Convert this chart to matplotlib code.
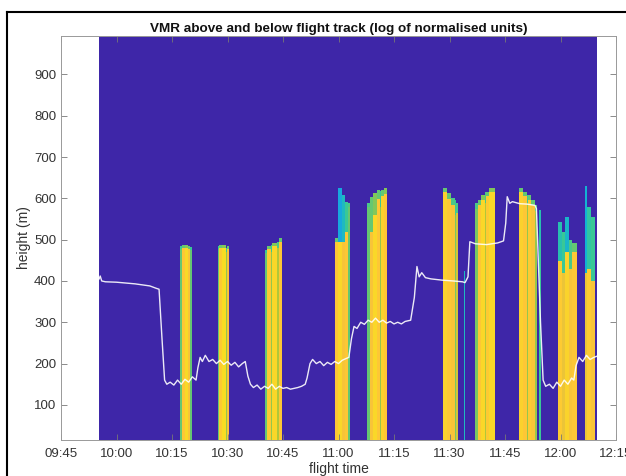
import matplotlib
matplotlib.use('Agg')
import matplotlib.pyplot as plt
from matplotlib.colors import LinearSegmentedColormap
from matplotlib.lines import Line2D
import numpy as np

# time in minutes after 09:45
tick_minutes = [0, 15, 30, 45, 60, 75, 90, 105, 120, 135, 150]
tick_labels = ['09:45', '10:00', '10:15', '10:30', '10:45', '11:00',
               '11:15', '11:30', '11:45', '12:00', '12:15']
height_ticks = [100, 200, 300, 400, 500, 600, 700, 800, 900]

# extent of the VMR curtain
curtain_t = [10.2, 144.9]
curtain_h = [15, 993]

# profile columns: start, end, top of core, core value, top of cap, cap value
col_t0 = [32.2, 32.6, 33.4, 34.3, 34.9,
          42.4, 42.8, 43.6, 44.6, 44.9,
          55.1, 55.6, 56.8, 57.1, 58.5, 58.8,
          74.0, 74.9, 75.9, 76.8, 77.6,
          82.7, 83.5, 84.3, 85.4, 86.1, 86.4, 87.2,
          103.2, 104.3, 105.4, 106.4, 106.7,
          108.8,
          111.9, 112.7, 113.5, 114.6, 115.0, 115.8,
          123.8, 125.0, 126.0, 126.3, 127.1, 128.1, 129.1,
          134.4, 135.3, 136.2, 137.2, 138.2,
          141.6, 142.1, 143.3]
col_t1 = [32.6, 33.4, 34.3, 34.9, 35.3,
          42.8, 43.6, 44.6, 44.9, 45.4,
          55.6, 56.8, 57.1, 58.5, 58.8, 59.8,
          74.9, 75.9, 76.8, 77.6, 78.1,
          83.5, 84.3, 85.4, 86.1, 86.4, 87.2, 88.1,
          104.3, 105.4, 106.4, 106.7, 107.4,
          109.1,
          112.7, 113.5, 114.6, 115.0, 115.8, 117.3,
          125.0, 126.0, 126.3, 127.1, 128.1, 128.6, 129.6,
          135.3, 136.2, 137.2, 138.2, 139.5,
          142.1, 143.3, 144.3]
col_top = [478, 480, 480, 478, 476,
           478, 480, 480, 470, 478,
           468, 478, 470, 485, 480, 496,
           495, 495, 495, 520, 580,
           580, 520, 560, 600, 580, 605, 612,
           615, 600, 585, 560, 565,
           420,
           575, 585, 598, 590, 605, 615,
           615, 605, 590, 598, 585, 570, 500,
           450, 420, 470, 430, 470,
           420, 430, 400]
col_val = [0.55, 0.76, 0.82, 0.74, 0.55,
           0.55, 0.77, 0.83, 0.60, 0.74,
           0.55, 0.77, 0.60, 0.81, 0.63, 0.76,
           0.76, 0.81, 0.74, 0.76, 0.55,
           0.55, 0.74, 0.81, 0.76, 0.60, 0.79, 0.76,
           0.79, 0.76, 0.74, 0.57, 0.68,
           0.42,
           0.57, 0.76, 0.81, 0.63, 0.77, 0.81,
           0.79, 0.76, 0.60, 0.77, 0.74, 0.60, 0.50,
           0.77, 0.72, 0.80, 0.74, 0.76,
           0.72, 0.77, 0.74]
cap_top = [486, 487, 487, 486, 484,
           486, 487, 487, 480, 486,
           476, 486, 488, 493, 495, 504,
           505, 625, 608, 592, 589,
           589, 604, 613, 620, 618, 622, 626,
           625, 613, 601, 596, 589,
           425,
           589, 596, 608, 616, 616, 625,
           625, 616, 608, 608, 596, 584, 572,
           543, 520, 556, 500, 492,
           632, 580, 556]
cap_val = [0.5, 0.55, 0.58, 0.55, 0.5,
           0.5, 0.55, 0.58, 0.5, 0.55,
           0.5, 0.55, 0.5, 0.58, 0.52, 0.55,
           0.55, 0.35, 0.42, 0.5, 0.52,
           0.52, 0.55, 0.58, 0.55, 0.5, 0.55, 0.58,
           0.55, 0.55, 0.52, 0.5, 0.52,
           0.4,
           0.52, 0.55, 0.58, 0.52, 0.55, 0.58,
           0.55, 0.55, 0.5, 0.55, 0.55, 0.52, 0.45,
           0.45, 0.5, 0.4, 0.52, 0.55,
           0.38, 0.48, 0.5]

# flight track altitude
track_t = [10.3, 10.6, 11.0, 12, 15, 20, 24, 25.8, 26.5, 27.3, 28.0, 28.6,
           29.5, 30.5, 31.5, 32.5, 33.5, 34.5, 35.5, 36.5, 37.0, 37.6, 38.2,
           39, 40, 41, 42, 43, 44, 45, 46, 47, 48, 49, 49.8, 50.5, 51.2, 52,
           53, 54, 55, 56, 57, 58, 59, 60, 61, 62, 63, 64, 65, 66, 66.5, 67.3,
           68, 69, 70, 71, 72, 73, 74, 75, 76, 77, 77.8, 78.5, 79.2, 80, 81,
           82, 83, 84, 85, 86, 87, 88, 89, 90, 91, 92, 93, 94.5, 95.5, 96.2,
           96.8, 97.5, 98.5, 100, 103, 106, 108.5, 109.2, 110, 110.5, 112,
           115, 118, 119.6, 120.2, 120.6, 121.3, 122, 124, 126, 128.1, 128.5,
           129.0, 129.6, 130.3, 131, 132, 133, 134, 135, 136, 137, 138, 138.6,
           139.2, 140, 141, 142, 143, 144, 144.9]
track_h = [405, 412, 400, 398, 397, 393, 388, 382, 380, 260, 160, 150,
           155, 148, 160, 150, 162, 155, 168, 160, 190, 215, 205,
           220, 205, 210, 200, 208, 198, 205, 196, 203, 192, 200, 205, 170,
           150, 142, 148, 138, 145, 140, 150, 138, 145, 140, 142, 138, 140,
           142, 145, 150, 165, 200, 210, 200, 205, 195, 203, 198, 205, 200,
           208, 212, 215, 260, 290, 285, 300, 295, 305, 300, 310, 300, 305,
           298, 302, 296, 300, 296, 302, 305, 360, 435, 410, 420, 408, 405,
           402, 400, 398, 396, 410, 495, 490, 488, 492, 497, 540, 604, 588,
           592, 587, 586, 583, 575, 450, 300, 160, 145, 150, 140, 155, 145,
           160, 150, 165, 160, 195, 215, 205, 220, 210, 215, 218]

if __name__ == '__main__':
    # parula-like colour map
    parula = LinearSegmentedColormap.from_list('parula', [
        (0.0, (0.2422, 0.1504, 0.6603)),
        (0.125, (0.2810, 0.3228, 0.9579)),
        (0.25, (0.1786, 0.5289, 0.9682)),
        (0.375, (0.0689, 0.6948, 0.8394)),
        (0.5, (0.2161, 0.7843, 0.5923)),
        (0.625, (0.6720, 0.7793, 0.2227)),
        (0.75, (0.9970, 0.7659, 0.2199)),
        (0.875, (0.9598, 0.9218, 0.0948)),
        (1.0, (0.9769, 0.9839, 0.0805))])

    # build the curtain grid
    t_edges = np.arange(curtain_t[0], curtain_t[1] + 0.05, 0.1)
    h_edges = np.arange(curtain_h[0], curtain_h[1] + 1, 2.0)
    t_mid = (t_edges[:-1] + t_edges[1:]) / 2
    h_mid = (h_edges[:-1] + h_edges[1:]) / 2
    vmr = np.zeros((len(h_mid), len(t_mid)))
    for t0, t1, top, v, ctop, cv in zip(col_t0, col_t1, col_top, col_val, cap_top, cap_val):
        cols = (t_mid >= t0) & (t_mid < t1)
        vmr[np.ix_(h_mid < top, cols)] = v
        vmr[np.ix_((h_mid >= top) & (h_mid < ctop), cols)] = cv

    fig = plt.figure(figsize=(6.26, 4.76), dpi=100)
    plt.rcParams['font.family'] = ['Liberation Sans', 'DejaVu Sans']
    ax = fig.add_axes([61 / 626, 36 / 476, 555 / 626, 404 / 476])
    ax.pcolormesh(t_edges, h_edges, vmr, cmap=parula, vmin=0, vmax=1, shading='flat')
    ax.plot(track_t, track_h, color='white', lw=1.0, alpha=0.9)

    ax.set_xlim(0, 150)
    ax.set_ylim(curtain_h[0], curtain_h[1])
    ax.set_xticks(tick_minutes)
    ax.set_xticklabels(tick_labels)
    ax.set_yticks(height_ticks)
    ax.tick_params(direction='in', length=4, width=0.6, colors='#777777',
                   labelcolor='#333333', labelsize=9.5, top=True, right=True)
    ax.tick_params(axis='x', pad=6)
    ax.tick_params(axis='y', pad=3.5)
    for s in ax.spines.values():
        s.set_color('#999999')
        s.set_linewidth(0.7)
    ax.set_title('VMR above and below flight track (log of normalised units)',
                 fontsize=9.7, fontweight='bold', pad=3, color='#111111')
    ax.set_xlabel('flight time', fontsize=10, color='#333333', labelpad=1)
    ax.set_ylabel('height (m)', fontsize=10, color='#333333', labelpad=2)

    # screenshot frame
    fig.add_artist(Line2D([7 / 626, 1], [1 - 12 / 476, 1 - 12 / 476], color='black', lw=1.5))
    fig.add_artist(Line2D([7 / 626, 7 / 626], [0, 1 - 12 / 476], color='black', lw=1.5))

    fig.savefig('out.png', dpi=100)
